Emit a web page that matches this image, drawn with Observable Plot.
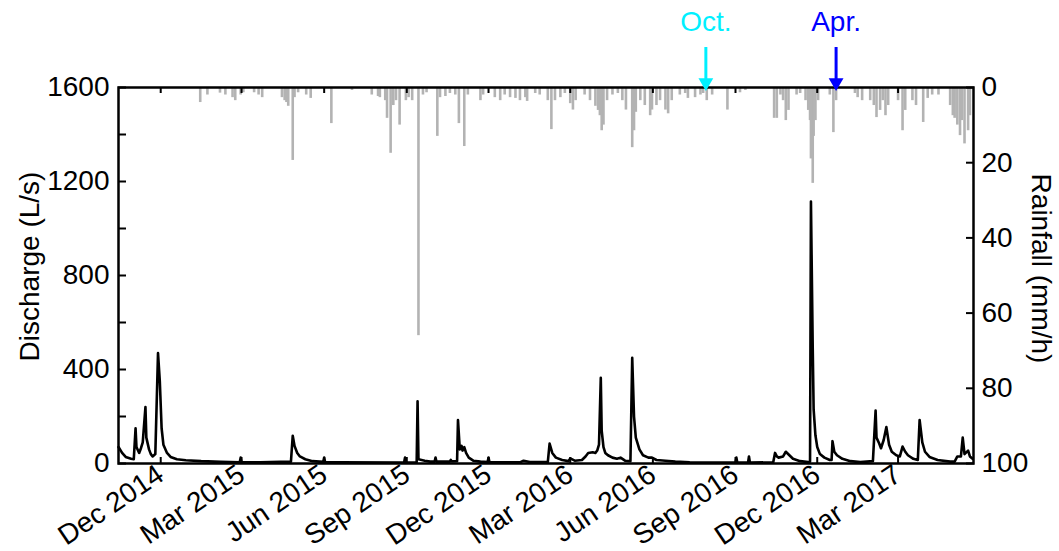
<!DOCTYPE html>
<html><head><meta charset="utf-8">
<script src="https://cdn.jsdelivr.net/npm/d3@7"></script>
<script src="https://cdn.jsdelivr.net/npm/@observablehq/plot@0.6"></script>
<style>body{margin:0;background:#fff;}</style>
</head><body><div id="chart"></div>
<script>
// Discharge (L/s)
const flowDates = ["2014-10-15","2014-10-19","2014-10-23","2014-10-29","2014-11-01","2014-11-03","2014-11-04","2014-11-07","2014-11-09","2014-11-11","2014-11-14","2014-11-15","2014-11-18","2014-11-20","2014-11-22","2014-11-25","2014-11-28","2014-11-30","2014-12-02","2014-12-04","2014-12-08","2014-12-12","2014-12-19","2014-12-29","2015-01-15","2015-02-06","2015-02-27","2015-02-28","2015-03-01","2015-03-22","2015-04-25","2015-04-27","2015-04-29","2015-05-02","2015-05-05","2015-05-11","2015-05-19","2015-05-31","2015-06-01","2015-06-02","2015-06-19","2015-08-29","2015-08-30","2015-08-31","2015-09-12","2015-09-13","2015-09-14","2015-09-21","2015-09-27","2015-10-02","2015-10-03","2015-10-04","2015-10-14","2015-10-19","2015-10-20","2015-10-21","2015-10-27","2015-10-28","2015-10-30","2015-11-01","2015-11-02","2015-11-04","2015-11-06","2015-11-09","2015-11-14","2015-11-22","2015-11-30","2015-12-01","2015-12-02","2016-01-05","2016-01-09","2016-01-16","2016-02-05","2016-02-07","2016-02-10","2016-02-14","2016-02-21","2016-02-28","2016-03-01","2016-03-06","2016-03-14","2016-03-18","2016-03-21","2016-03-26","2016-03-29","2016-03-31","2016-04-02","2016-04-04","2016-04-05","2016-04-07","2016-04-09","2016-04-12","2016-04-17","2016-04-22","2016-04-26","2016-05-01","2016-05-07","2016-05-09","2016-05-11","2016-05-13","2016-05-17","2016-05-21","2016-05-27","2016-05-31","2016-06-05","2016-06-15","2016-06-26","2016-07-12","2016-08-15","2016-09-01","2016-09-02","2016-09-03","2016-09-15","2016-09-16","2016-09-17","2016-10-13","2016-10-15","2016-10-17","2016-10-19","2016-10-24","2016-10-27","2016-10-31","2016-11-04","2016-11-12","2016-11-21","2016-11-23","2016-11-24","2016-11-26","2016-11-27","2016-11-29","2016-12-01","2016-12-04","2016-12-09","2016-12-15","2016-12-17","2016-12-18","2016-12-20","2016-12-23","2016-12-29","2017-01-07","2017-01-18","2017-02-01","2017-02-04","2017-02-05","2017-02-08","2017-02-10","2017-02-13","2017-02-16","2017-02-19","2017-02-22","2017-02-27","2017-03-03","2017-03-06","2017-03-09","2017-03-12","2017-03-18","2017-03-23","2017-03-25","2017-03-28","2017-03-31","2017-04-05","2017-04-14","2017-04-28","2017-05-03","2017-05-06","2017-05-10","2017-05-12","2017-05-14","2017-05-18","2017-05-20","2017-05-23"];
const flowValues = [70,45,28,20,18,150,70,45,65,90,240,110,60,40,30,40,470,350,150,80,45,28,18,14,10,7,5,25,5,5,8,118,75,45,30,18,10,7,25,6,5,4,25,4,5,265,18,12,8,8,25,8,8,8,15,9,10,185,60,75,55,70,45,25,12,8,6,25,6,5,12,6,6,85,45,25,15,10,22,12,15,30,45,48,45,55,80,365,140,70,45,35,25,20,25,12,10,450,200,110,60,35,25,25,15,12,8,5,4,4,25,4,4,30,4,5,45,30,25,30,50,35,20,10,6,8,1115,490,230,120,70,40,25,15,15,95,50,35,20,10,6,10,225,110,85,65,100,155,80,50,35,30,72,50,35,20,15,185,90,50,28,15,8,8,30,30,110,40,55,30,20];

// Rainfall (mm/h)
const rainDates = ["2015-01-14","2015-01-22","2015-02-05","2015-02-11","2015-02-19","2015-02-22","2015-02-28","2015-03-03","2015-03-15","2015-03-20","2015-03-24","2015-04-15","2015-04-18","2015-04-20","2015-04-22","2015-04-27","2015-04-29","2015-05-03","2015-05-12","2015-05-17","2015-06-09","2015-07-02","2015-07-24","2015-07-31","2015-08-02","2015-08-08","2015-08-10","2015-08-14","2015-08-17","2015-08-20","2015-08-24","2015-08-31","2015-09-03","2015-09-07","2015-09-14","2015-09-19","2015-09-23","2015-10-05","2015-10-08","2015-10-14","2015-10-19","2015-10-25","2015-10-29","2015-11-04","2015-11-08","2015-11-22","2015-11-25","2015-12-08","2015-12-14","2015-12-19","2015-12-25","2015-12-31","2016-01-05","2016-01-11","2016-01-13","2016-01-22","2016-01-27","2016-02-05","2016-02-09","2016-02-13","2016-02-19","2016-02-24","2016-03-01","2016-03-04","2016-03-07","2016-03-17","2016-03-23","2016-03-29","2016-04-01","2016-04-03","2016-04-05","2016-04-07","2016-04-11","2016-04-17","2016-04-23","2016-04-28","2016-05-02","2016-05-09","2016-05-11","2016-05-13","2016-05-18","2016-05-23","2016-05-29","2016-05-31","2016-06-05","2016-06-09","2016-06-15","2016-06-18","2016-06-22","2016-07-01","2016-07-07","2016-07-10","2016-07-18","2016-07-24","2016-07-27","2016-07-31","2016-08-06","2016-08-23","2016-09-06","2016-09-12","2016-10-14","2016-10-17","2016-10-21","2016-10-24","2016-10-27","2016-10-30","2016-11-08","2016-11-12","2016-11-18","2016-11-21","2016-11-23","2016-11-24","2016-11-25","2016-11-26","2016-11-27","2016-11-29","2016-12-02","2016-12-15","2016-12-19","2016-12-22","2017-01-12","2017-01-15","2017-01-20","2017-01-29","2017-02-02","2017-02-05","2017-02-09","2017-02-12","2017-02-15","2017-02-18","2017-03-01","2017-03-06","2017-03-09","2017-03-17","2017-03-21","2017-03-29","2017-04-03","2017-04-08","2017-04-15","2017-04-28","2017-05-01","2017-05-03","2017-05-06","2017-05-09","2017-05-11","2017-05-14","2017-05-18","2017-05-20"];
const rainValues = [4,2,1.5,2,2.7,3.5,2,1.4,1.4,2,2.7,2.7,3.5,4,5,19.4,2.7,1.4,2,2.9,9.6,0.8,2,2.4,2.7,3.5,8.2,17.5,4.8,3.5,10,3.5,2.7,3.5,66,2,1.4,13,2.7,2.4,1.6,2,9.6,15.7,2,3.5,2,2.7,3.5,2,2.7,2.9,3.5,2.7,3.7,1.6,2,3.5,11.2,3.5,2.7,1.6,4.3,6,3.5,2,3.5,5,6.1,7.5,11.5,10,3.5,2,1.6,3.5,6,16,11.5,6.6,3.5,4.8,7.5,6,4.8,3.5,6,7,3.5,2,1.6,2.9,2.7,2,1.6,3.5,2,6,1.4,0.8,8.2,8.2,2,3.5,8.8,6.1,2,1.6,3.5,6.1,8.8,19,14,25.5,13,8.8,3.5,2,12,3.5,1.6,2.7,3.5,3.5,4.8,8,6.1,3.5,7.5,4.8,3.5,11.5,6.1,3.5,4.8,9.3,2.9,2,2,4.8,7.5,8.2,10,12.8,8.8,15,11.5,7.5];

// Axes
const xStart = "2014-10-15", xEnd = "2017-05-24";
const xTickDates = ["2014-12-01","2015-03-01","2015-06-01","2015-09-01","2015-12-01","2016-03-01","2016-06-01","2016-09-01","2016-12-01","2017-03-01"];
const dischargeTicks = [0, 400, 800, 1200, 1600];
const dischargeMinorTicks = [200, 600, 1000, 1400];
const rainTicks = [0, 20, 40, 60, 80, 100];

// Annotations
const markLabels = ["Oct.", "Apr."];
const markDates = ["2016-07-30", "2016-12-22"];
const markColors = ["#00f0ff", "#0000ff"];

const QMAX = 1600, RMAX = 100, k = QMAX / RMAX;
const parse = s => new Date(s + "T00:00:00Z");
const flow = flowDates.map((d, i) => ({date: parse(d), q: flowValues[i]}));
const rain = rainDates.map((d, i) => ({date: parse(d), r: rainValues[i]}));
const marks = markLabels.map((l, i) => ({date: parse(markDates[i]), label: l, color: markColors[i]}));

const chart = Plot.plot({
  width: 1059, height: 551,
  marginTop: 87, marginBottom: 88, marginLeft: 118, marginRight: 86,
  style: {fontFamily: "'Liberation Sans', Arial, Helvetica, sans-serif", fontSize: "28px", background: "white", color: "black", overflow: "visible"},
  x: {type: "utc", domain: [parse(xStart), parse(xEnd)]},
  y: {domain: [0, QMAX]},
  marks: [
    Plot.ruleX(rain, {x: "date", y1: QMAX, y2: d => QMAX - d.r * k, stroke: "#b3b3b3", strokeWidth: 2.6}),
    Plot.line(flow, {x: "date", y: "q", stroke: "black", strokeWidth: 2.6, strokeLinejoin: "round"}),
    Plot.frame({stroke: "black", strokeWidth: 2.5}),
    Plot.axisY({anchor: "left", ticks: dischargeTicks, tickFormat: d => String(d), tickSize: -8, tickPadding: 17, strokeWidth: 2, label: null}),
    Plot.axisY({anchor: "left", ticks: dischargeMinorTicks, tickSize: -8, text: null, strokeWidth: 2, label: null}),
    Plot.axisY({anchor: "right", ticks: rainTicks.map(r => QMAX - r * k), tickFormat: v => String(Math.round((QMAX - v) / k)), tickSize: -8, tickPadding: 16, strokeWidth: 2, label: null}),
    Plot.axisX({anchor: "bottom", ticks: xTickDates.map(parse), tickFormat: d3.utcFormat("%b %Y"), tickRotate: -34, tickSize: -6, tickPadding: 14, strokeWidth: 2, label: null}),
    Plot.axisX({anchor: "top", ticks: xTickDates.map(parse), tickSize: -5, text: null, strokeWidth: 2, label: null}),
    Plot.text(["Discharge (L/s)"], {frameAnchor: "left", text: d => d, textAnchor: "middle", rotate: -90, dx: -88, dy: -9, fontSize: 28}),
    Plot.text(["Rainfall (mm/h)"], {frameAnchor: "right", text: d => d, textAnchor: "middle", rotate: 90, dx: 67, dy: -7, fontSize: 28}),
    Plot.ruleX(marks, {x: "date", stroke: "color", strokeWidth: 3, insetTop: -40, insetBottom: 383}),
    Plot.dot(marks, {x: "date", frameAnchor: "top", symbol: "triangle", rotate: 180, r: 5.5, fill: "color", stroke: "none", dy: -5}),
    Plot.text(marks, {x: "date", text: "label", fill: "color", frameAnchor: "top", dy: -76, fontSize: 28})
  ]
});
chart.style.color = "black";
document.getElementById("chart").appendChild(chart);
</script>
</body></html>
